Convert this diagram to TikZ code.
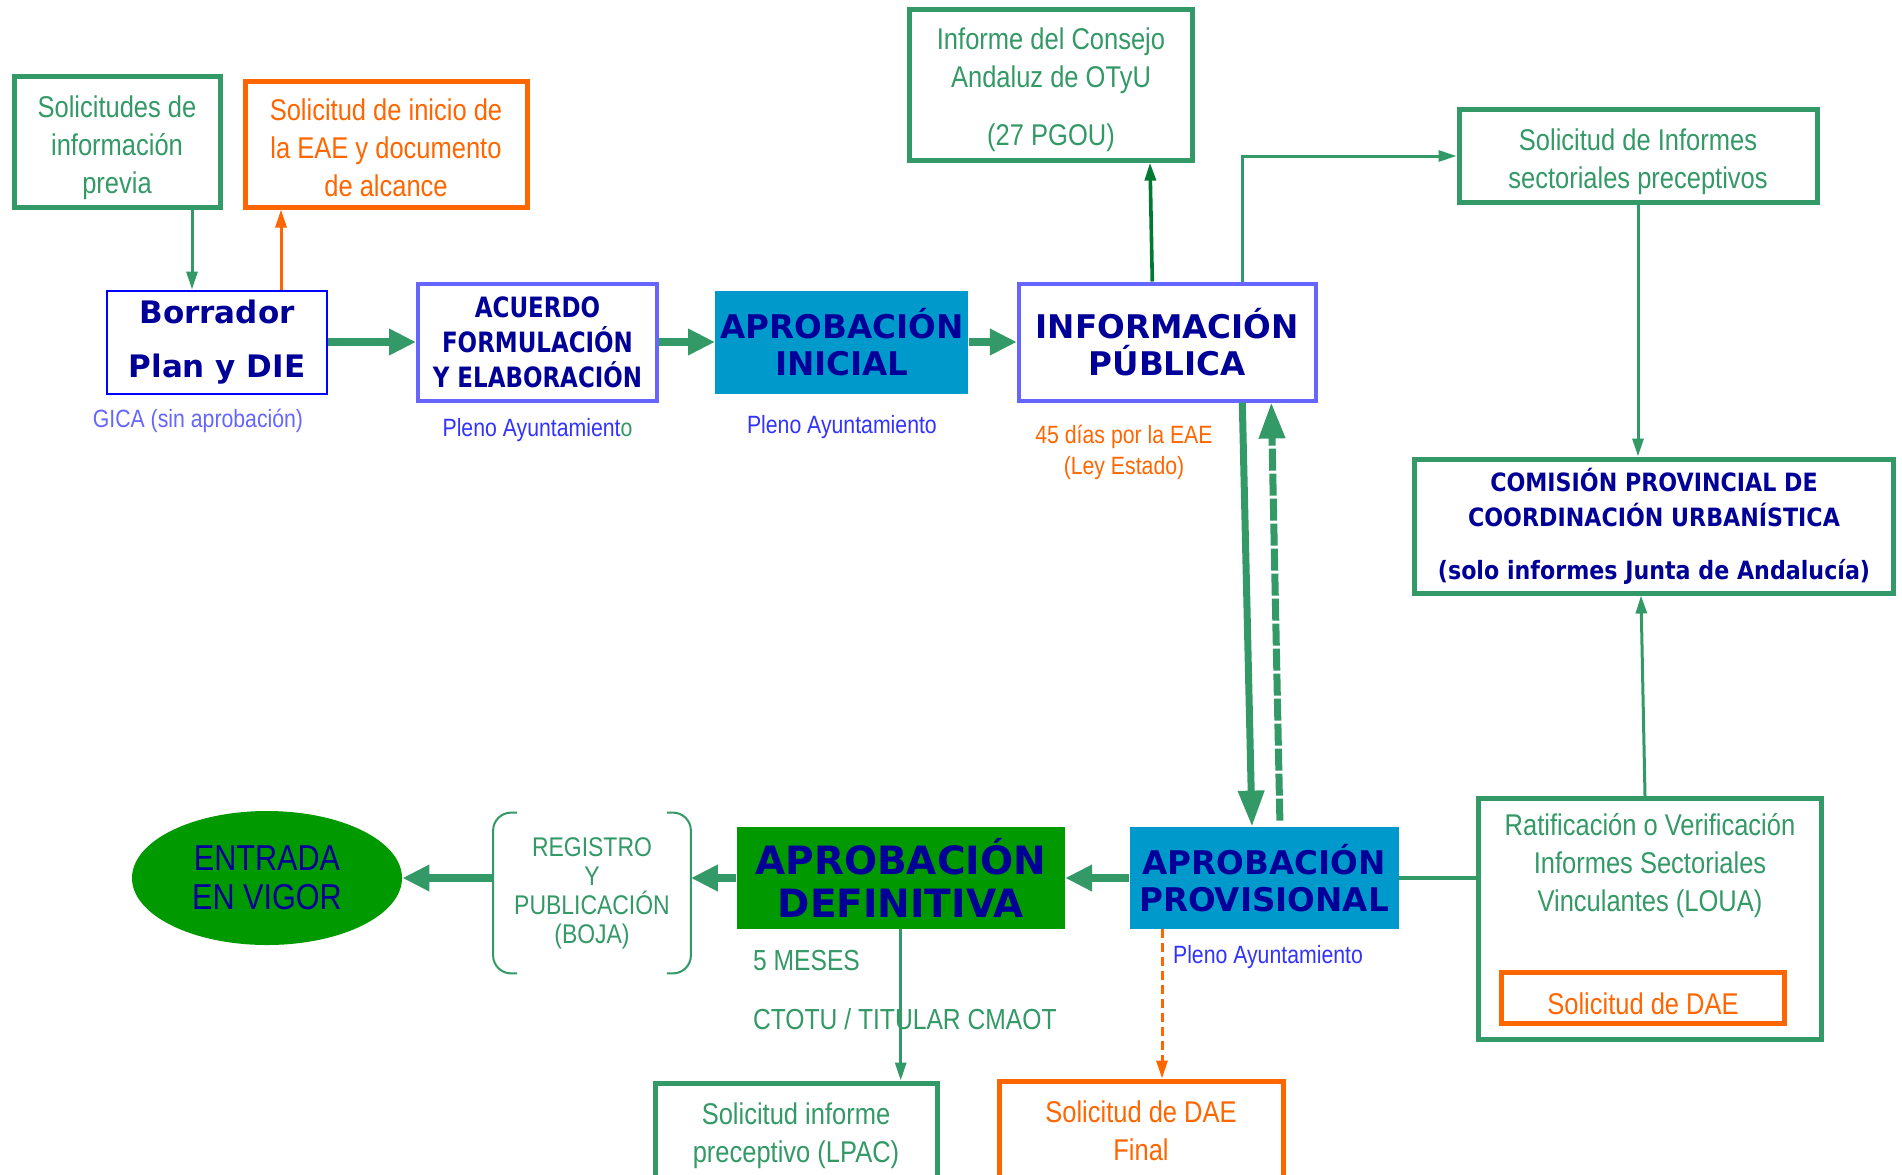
\documentclass[tikz,border=0pt]{standalone}
\usepackage{fontspec}
\usepackage{xcolor}
\usepackage{tikz}
\usetikzlibrary{positioning,shapes,arrows.meta,calc}
\setmainfont{Liberation Sans}
\newfontfamily\narrowfont[FakeStretch=0.85]{Liberation Sans}
\newfontfamily\titlefont{DejaVu Sans}
\newfontfamily\condtitlefont[FakeStretch=0.82]{DejaVu Sans}
\newfontfamily\comfont[FakeStretch=0.88]{DejaVu Sans}
\definecolor{verde}{HTML}{339966}
\definecolor{verdeosc}{HTML}{007A33}
\definecolor{naranja}{HTML}{FF6600}
\definecolor{lila}{HTML}{6666FF}
\definecolor{azul}{HTML}{3333FF}
\definecolor{marino}{HTML}{000099}
\definecolor{cian}{HTML}{0099CC}
\definecolor{verdefuerte}{HTML}{009900}
\tikzstyle{gbox}=[%
      rectangle, draw=verde, line width=2.5pt, fill=white, text=verde,
      font=\narrowfont\fontsize{15}{19}\selectfont, align=center, inner sep=4pt
]
\tikzstyle{obox}=[gbox, draw=naranja, text=naranja]
\tikzstyle{pbox}=[%
      rectangle, draw=lila, line width=2pt, fill=white, text=marino, align=center,
      font=\titlefont\bfseries\fontsize{16.3}{18.8}\selectfont, inner sep=3pt
]
\tikzstyle{fase}=[%
      rectangle, fill=cian, text=marino, align=center, inner xsep=2pt,
      font=\titlefont\bfseries\fontsize{16.3}{18.8}\selectfont
]
\tikzstyle{nota}=[text=azul, font=\narrowfont\fontsize{12.5}{15.5}\selectfont, align=center]
\tikzstyle{flecha}=[draw=verde, line width=4pt, -{Triangle[length=13.5pt,width=12.5pt]}]
\tikzstyle{flechav}=[draw=verde, line width=3.5pt, -{Triangle[length=18pt,width=12.5pt]}]
\tikzstyle{linea}=[draw=verde, line width=1.5pt, -{Triangle[length=9pt,width=5.5pt]}]

\begin{document}
\begin{tikzpicture}[x=0.5pt, y=-0.5pt]
    \useasboundingbox (0,0) rectangle (1902,1174);
    \fill[white] (0,0) rectangle (1902,1174);

    % fila superior
    \node[gbox, text height=54.5pt, minimum width=103pt, minimum height=64pt] (solprev) at (117,142) {Solicitudes de\\información\\previa};
    \node[obox, text height=52.5pt, minimum width=141pt, minimum height=63pt] (soleae) at (386,144) {Solicitud de inicio de\\la EAE y documento\\de alcance};
    \node[gbox, text height=64pt, minimum width=141.5pt, minimum height=73pt] (consejo) at (1051,85) {Informe del Consejo\\Andaluz de OTyU\\[10pt](27 PGOU)};
    \node[gbox, text height=35.5pt, minimum width=179pt, minimum height=44.5pt] (solinf) at (1638,156) {Solicitud de Informes\\sectoriales preceptivos};

    % cadena principal
    \node[rectangle, draw=blue, line width=1pt, text=marino, align=center,
          font=\titlefont\bfseries\fontsize{15.5}{27}\selectfont,
          minimum width=110pt, minimum height=51.5pt] (borrador) at (217,342) {Borrador\\Plan y DIE};
    \node[pbox, font=\condtitlefont\bfseries\fontsize{14}{17.6}\selectfont,
          minimum width=119.5pt, minimum height=58.5pt] (acuerdo) [right=44pt of borrador] {ACUERDO\\FORMULACIÓN\\Y ELABORACIÓN};
    \node[fase, minimum width=126.5pt, minimum height=51.5pt] (apini) [right=28pt of acuerdo] {APROBACIÓN\\INICIAL};
    \node[pbox, minimum width=148.5pt, minimum height=58.5pt] (infopub) [right=24pt of apini] {INFORMACIÓN\\PÚBLICA};

    \node[nota, text=lila, below=4pt of borrador, xshift=-9.5pt] (gica) {GICA (sin aprobación)};
    \node[nota, below=4.5pt of acuerdo] (pleno1) {Pleno Ayuntamient\textcolor{verde}{o}};
    \node[nota, below=7pt of apini] (pleno2) {Pleno Ayuntamiento};
    \node[nota, text=naranja] (eae45) at (1124,452) {45 días por la EAE\\(Ley Estado)};

    % comision y ratificacion
    \node[gbox, text=marino, font=\comfont\bfseries\fontsize{12.6}{17.5}\selectfont,
          minimum width=239.5pt, minimum height=67pt] (comision) at (1654,526)
          {COMISIÓN PROVINCIAL DE\\COORDINACIÓN URBANÍSTICA\\[9pt](solo informes Junta de Andalucía)};
    \node[gbox, minimum width=171.5pt, minimum height=120.5pt] (ratif) at (1650,919) {};
    \node[gbox, draw=none, fill=none, text height=52.5pt, below=0pt of ratif.north] (ratiftxt) {Ratificación o Verificación\\Informes Sectoriales\\Vinculantes (LOUA)};
    \node[obox, text height=16.5pt, minimum width=141.5pt, minimum height=25.5pt] (daeint) at (1643,998) {Solicitud de DAE};

    % fila inferior
    \node[fase, minimum width=134.5pt, minimum height=51pt] (approv) at (1264,878) {APROBACIÓN\\PROVISIONAL};
    \node[fase, fill=verdefuerte, font=\titlefont\bfseries\fontsize{19.5}{21.8}\selectfont,
          minimum width=164pt, minimum height=51pt] (apdef) [left=32pt of approv] {APROBACIÓN\\DEFINITIVA};
    \node[text=verde, align=center, font=\narrowfont\fontsize{13.5}{14.5}\selectfont,
          minimum width=98.5pt, minimum height=80pt] (registro) at (592,893) {REGISTRO\\Y\\PUBLICACIÓN\\(BOJA)};
    \node[ellipse, fill=verdefuerte, text=marino, align=center, inner sep=0pt,
          font=\narrowfont\fontsize{18}{19.5}\selectfont,
          minimum width=135pt, minimum height=67pt] (entrada) at (267,878) {ENTRADA\\EN VIGOR};

    \node[nota, anchor=west] (pleno3) at (1166,957) {Pleno Ayuntamiento};
    \node[nota, text=verde, anchor=west, font=\narrowfont\fontsize{14.5}{16}\selectfont] (meses) at (746,961) {5 MESES};
    \node[nota, text=verde, anchor=west, font=\narrowfont\fontsize{14.5}{16}\selectfont] (ctotu) at (746,1019) {CTOTU / TITULAR CMAOT};

    \node[gbox, text height=33.5pt, minimum width=141pt, minimum height=49pt] (sollpac) at (796,1132) {Solicitud informe\\preceptivo (LPAC)};
    \node[obox, minimum width=142pt, minimum height=50pt] (daefinal) at (1141,1131) {Solicitud de DAE\\Final};

    % corchetes del registro
    \draw[verde, line width=1pt, rounded corners=9pt]
          ([xshift=12pt]registro.north west) -- (registro.north west) -- (registro.south west) -- ([xshift=12pt]registro.south west);
    \draw[verde, line width=1pt, rounded corners=9pt]
          ([xshift=-12pt]registro.north east) -- (registro.north east) -- (registro.south east) -- ([xshift=-12pt]registro.south east);

    % conexiones
    \draw[linea] ([xshift=37.5pt]solprev.south) -- ([xshift=-12.5pt]borrador.north);
    \draw[linea, draw=naranja] ([xshift=32pt]borrador.north) -- ([xshift=-52.5pt]soleae.south);
    \draw[flecha] (borrador) -- (acuerdo);
    \draw[flecha] (acuerdo) -- (apini);
    \draw[flecha] (apini) -- (infopub);
    \draw[linea, draw=verdeosc, line width=1.8pt] ([xshift=-7.5pt]infopub.north) -- ([xshift=49.5pt]consejo.south);
    \draw[linea] ([xshift=37.5pt]infopub.north) |- (solinf.west);
    \draw[linea] (solinf.south) -- (solinf.south |- comision.north);
    \draw[linea] ([xshift=-2.5pt]ratif.north) -- ([xshift=-6.5pt]comision.south);
    \draw[flechav] ([xshift=37.5pt]infopub.south) -- ([xshift=-6pt]approv.north);
    \draw[flechav, dash pattern=on 11pt off 1.5pt, shorten <=3pt] ([xshift=8pt]approv.north) -- ([xshift=52pt]infopub.south);
    \draw[verde, line width=2pt] (approv.east) -- (approv.east -| ratif.west);
    \draw[flecha] (approv) -- (apdef);
    \draw[flecha] (apdef.west) -- (apdef.west -| registro.east);
    \draw[flecha] (entrada.east -| registro.west) -- (entrada.east);
    \draw[linea] (apdef.south) -- (apdef.south |- sollpac.north);
    \draw[linea, draw=naranja, dash pattern=on 4.5pt off 2.5pt] ([xshift=-51pt]approv.south) -- ([xshift=-51pt]approv.south |- daefinal.north);
\end{tikzpicture}
\end{document}
